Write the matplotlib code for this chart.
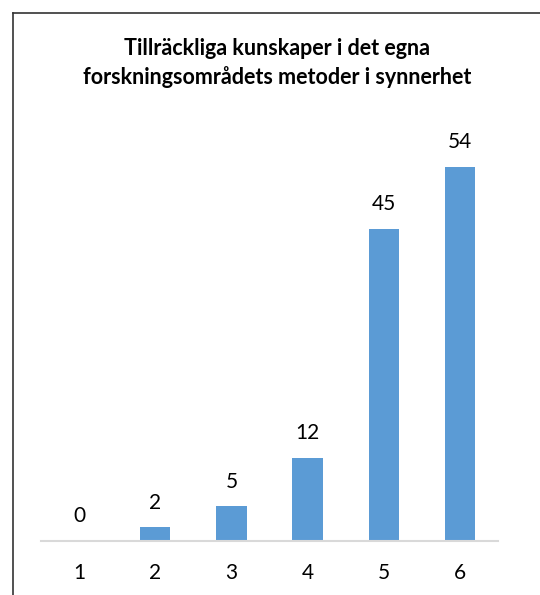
import matplotlib
matplotlib.use("Agg")
import matplotlib.pyplot as plt
from matplotlib.lines import Line2D

categories = ["1", "2", "3", "4", "5", "6"]
values = [0, 2, 5, 12, 45, 54]
title = "Tillräckliga kunskaper i det egna\nforskningsområdets metoder i synnerhet"

plt.rcParams['font.family'] = ['Lato', 'DejaVu Sans']

W, H = 540, 595
fig = plt.figure(figsize=(W/100, H/100), dpi=100)
ax = fig.add_axes([41/W, (H-541)/H, (498-41)/W, (541-125)/H])

x = range(len(categories))
ax.bar(x, values, width=0.4, color="#5b9bd5")
ax.set_xlim(-0.5, len(categories)-0.5)
ax.set_ylim(0, 60)
for xi, v in zip(x, values):
    ax.annotate(str(v), (xi, v), xytext=(0, 10.5), textcoords="offset points",
                ha="center", va="bottom", fontsize=15, color="#000000")
ax.set_xticks(list(x))
ax.set_xticklabels(categories, fontsize=15)
ax.tick_params(axis="x", length=0, pad=16)
ax.set_yticks([])
for s in ["top", "right", "left"]:
    ax.spines[s].set_visible(False)
ax.spines["bottom"].set_color("#d9d9d9")
ax.spines["bottom"].set_linewidth(1.5)

fig.text(277/W, 1-63/H, title, ha="center", va="center", fontsize=15.5,
         fontweight="bold", linespacing=1.4)

fig.add_artist(Line2D([13/W, 13/W], [0, 1-13/H], transform=fig.transFigure,
                      color="#333333", lw=1.2))
fig.add_artist(Line2D([13/W, 1], [1-13/H, 1-13/H], transform=fig.transFigure,
                      color="#333333", lw=1.2))

fig.savefig("out.png", dpi=100)
